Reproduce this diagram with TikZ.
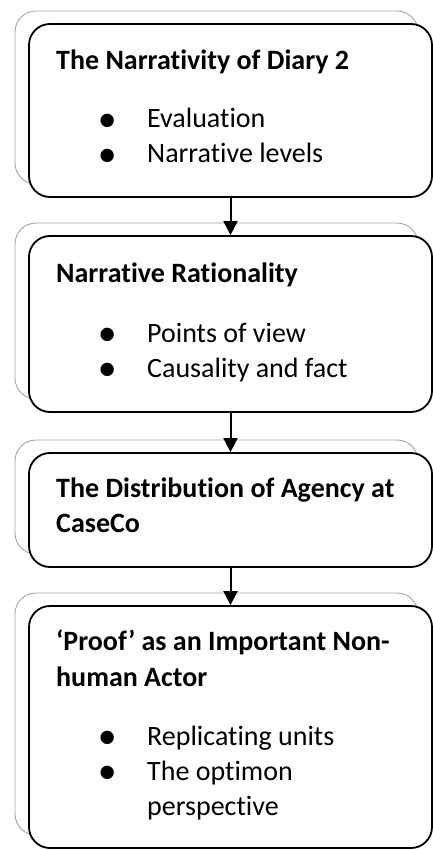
\documentclass[tikz,border=0pt]{standalone}
\usepackage{fontspec}
\setmainfont{Carlito}[Ligatures=NoCommon]
\usetikzlibrary{arrows.meta,shadows}

\newcommand{\bul}{\llap{\makebox[80pt]{\raisebox{-3.5pt}{\scalebox{1.35}{\textbullet}}}}}

\begin{document}
\begin{tikzpicture}[x=1pt, y=-1pt,
  every node/.style={font=\fontsize{28}{35}\selectfont, inner sep=0pt},
  card/.style={draw=black, line width=1.8pt, fill=white, rounded corners=21pt, minimum width=403pt,
    copy shadow={shadow xshift=-14pt, shadow yshift=13pt, draw=gray!70, line width=0.9pt, fill=white}},
  hd/.style={anchor=base west, font=\fontsize{28}{35}\selectfont\bfseries},
  it/.style={anchor=base west},
  ar/.style={-{Triangle[width=14pt,length=14pt]}, line width=2pt}]

\useasboundingbox (0,0) rectangle (433,850);

% ---------------- boxes ----------------
\node[card, minimum height=173pt] (p1) at (230.5,110.5) {};
\node[card, minimum height=176pt] (p2) at (230.5,324) {};
\node[card, minimum height=114pt] (p3) at (230.5,510) {};
\node[card, minimum height=242pt] (p4) at (230.5,727) {};

% ---------------- box 1 ----------------
\node[hd] (p1t) at (56,70) {The Narrativity of Diary 2};
\node[it] (p1a) at (147,128) {\bul Evaluation};
\node[it] (p1b) at (147,163) {\bul Narrative levels};

% ---------------- box 2 ----------------
\node[hd] (p2t) at (56,282) {Narrative Rationality};
\node[it] (p2a) at (147,342) {\bul Points of view};
\node[it] (p2b) at (147,377) {\bul Causality and fact};

% ---------------- box 3 ----------------
\node[hd] (p3t) at (56,497) {The Distribution of Agency at};
\node[hd] (p3u) at (56,532) {CaseCo};

% ---------------- box 4 ----------------
\node[hd] (p4t) at (56,650) {‘Proof’ as an Important Non-};
\node[hd] (p4u) at (56,686) {human Actor};
\node[it] (p4a) at (147,745) {\bul Replicating units};
\node[it] (p4b) at (147,780) {\bul The optimon};
\node[it] (p4c) at (147,815) {perspective};

% ---------------- arrows ----------------
\draw[ar] (p1.south) -- (p2.north);
\draw[ar] (p2.south) -- (p3.north);
\draw[ar] (p3.south) -- (p4.north);
\end{tikzpicture}
\end{document}
